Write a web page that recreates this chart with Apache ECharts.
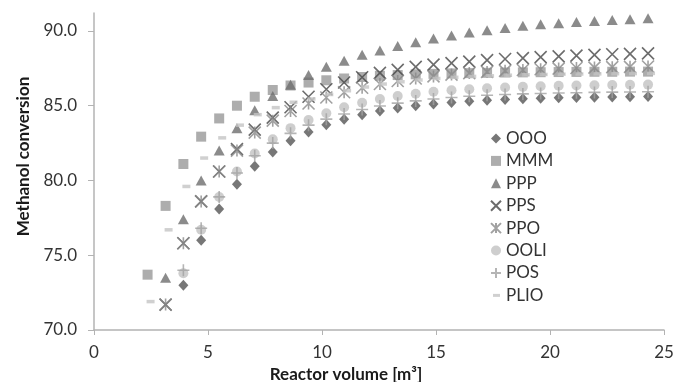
<!DOCTYPE html>
<html>
<head>
<meta charset="utf-8">
<script src="https://cdn.jsdelivr.net/npm/echarts@6/dist/echarts.min.js"></script>
<style>
  html, body { margin: 0; padding: 0; background: #fff; }
  #chart { width: 674px; height: 382px; }
</style>
</head>
<body>
<div id="chart"></div>
<script>
// reactor volume [m3] for every point
const volumes = [2.35, 3.14, 3.92, 4.70, 5.49, 6.27, 7.05, 7.84, 8.62, 9.41,
  10.19, 10.97, 11.76, 12.54, 13.32, 14.11, 14.89, 15.68, 16.46, 17.24,
  18.03, 18.81, 19.59, 20.38, 21.16, 21.95, 22.73, 23.51, 24.30];

// methanol conversion per oil (null = below the axis)
const ooo = [null, null, 73.0, 76.0, 78.1, 79.75, 80.95, 81.9, 82.65, 83.25, 83.72, 84.1, 84.4, 84.65, 84.85,
  85.0, 85.12, 85.22, 85.3, 85.37, 85.42, 85.46, 85.5, 85.53, 85.55, 85.57, 85.59, 85.6, 85.62];
const mmm = [73.7, 78.3, 81.1, 82.93, 84.15, 85.0, 85.6, 86.05, 86.35, 86.55, 86.7, 86.82, 86.92, 87.0, 87.05,
  87.1, 87.13, 87.16, 87.18, 87.2, 87.22, 87.23, 87.24, 87.25, 87.26, 87.27, 87.27, 87.28, 87.28];
const ppp = [null, 73.5, 77.4, 80.0, 82.0, 83.5, 84.7, 85.65, 86.4, 87.05, 87.6, 88.0, 88.4, 88.7, 89.0,
  89.25, 89.5, 89.7, 89.9, 90.05, 90.2, 90.35, 90.45, 90.52, 90.6, 90.67, 90.73, 90.78, 90.85];
const pps = [null, 71.7, 75.8, 78.6, 80.6, 82.1, 83.4, 84.2, 84.9, 85.6, 86.1, 86.55, 86.9, 87.2, 87.4,
  87.6, 87.75, 87.85, 87.95, 88.05, 88.12, 88.18, 88.25, 88.3, 88.35, 88.4, 88.44, 88.47, 88.5];
const ppo = [null, 71.7, 75.8, 78.6, 80.6, 82.0, 83.2, 84.0, 84.65, 85.15, 85.55, 85.9, 86.2, 86.45, 86.65,
  86.82, 86.96, 87.08, 87.18, 87.26, 87.33, 87.39, 87.44, 87.48, 87.52, 87.55, 87.58, 87.6, 87.62];
const ooli = [null, null, 73.8, 76.7, 78.9, 80.6, 81.8, 82.75, 83.5, 84.05, 84.5, 84.9, 85.2, 85.45, 85.65,
  85.8, 85.93, 86.03, 86.1, 86.17, 86.22, 86.26, 86.3, 86.33, 86.35, 86.37, 86.39, 86.4, 86.41];
const pos = [null, null, 74.0, 76.8, 78.9, 80.5, 81.65, 82.5, 83.15, 83.7, 84.1, 84.45, 84.75, 84.98, 85.17,
  85.32, 85.45, 85.55, 85.63, 85.7, 85.75, 85.79, 85.82, 85.85, 85.87, 85.89, 85.91, 85.92, 85.93];
const plio = [71.9, 76.7, 79.6, 81.5, 82.85, 83.7, 84.4, 84.87, 85.23, 85.45, 85.75, 86.0, 86.25, 86.45, 86.6,
  86.72, 86.82, 86.9, 86.96, 87.0, 87.04, 87.07, 87.09, 87.11, 87.12, 87.13, 87.14, 87.15, 87.16];

const xTicks = [0, 5, 10, 15, 20, 25];
const yTicks = [70, 75, 80, 85, 90];

const font = 'Lato, "Liberation Sans", sans-serif';

function pts(vals) {
  return vals.map((v, i) => [volumes[i], v]);
}

function lineMarker(name, vals, path, size, color, width) {
  return {
    name, type: 'scatter', data: pts(vals),
    symbol: path, symbolSize: size,
    itemStyle: {color: 'rgba(0,0,0,0)', borderColor: color, borderWidth: width}
  };
}

const chart = echarts.init(document.getElementById('chart'));
chart.setOption({
  animation: false,
  textStyle: {fontFamily: font},
  grid: {left: 94, right: 10, top: 13, bottom: 52, containLabel: false, outerBoundsMode: 'none'},
  legend: {
    orient: 'vertical', left: 485, top: 125,
    itemWidth: 10, itemHeight: 10, itemGap: 5.4,
    textStyle: {fontFamily: font, fontSize: 17, color: '#333'},
    data: ['OOO', 'MMM', 'PPP', 'PPS', 'PPO', 'OOLI', 'POS',
      // short dash icon, padded with move-tos so it keeps its size
      {name: 'PLIO', icon: 'path://M0,0M10,10M2,3.6L9,3.6L9,6.6L2,6.6Z'}]
  },
  xAxis: {
    type: 'value', min: 0, max: 25, interval: 5,
    name: 'Reactor volume [m³]', nameLocation: 'middle', nameGap: 29,
    nameTextStyle: {fontFamily: font, fontSize: 17, fontWeight: 'bold', color: '#1a1a1a', padding: [0, 66, 0, 0]},
    axisLine: {lineStyle: {color: '#b3b3b3', width: 1.5}},
    axisTick: {show: true, length: 5, lineStyle: {color: '#b3b3b3'}},
    axisLabel: {fontSize: 17, color: '#333', margin: 14, fontFamily: font},
    splitLine: {show: false}
  },
  yAxis: {
    type: 'value', min: 70, max: 91.2,
    name: 'Methanol conversion', nameLocation: 'middle', nameGap: 62,
    nameTextStyle: {fontFamily: font, fontSize: 17, fontWeight: 'bold', color: '#1a1a1a', padding: [0, 0, 0, 30]},
    axisLine: {show: true, lineStyle: {color: '#b3b3b3', width: 1.5}},
    axisTick: {show: true, length: 6, customValues: yTicks, lineStyle: {color: '#b3b3b3'}},
    axisLabel: {fontSize: 17, color: '#333', margin: 17, fontFamily: font,
      customValues: yTicks, formatter: v => v.toFixed(1)},
    splitLine: {show: false}
  },
  series: [
    {name: 'OOO', type: 'scatter', data: pts(ooo), symbol: 'diamond', symbolSize: [10, 11],
      itemStyle: {color: '#555555'}},
    {name: 'MMM', type: 'scatter', data: pts(mmm), symbol: 'rect', symbolSize: 10,
      itemStyle: {color: '#999999'}},
    {name: 'PPP', type: 'scatter', data: pts(ppp), symbol: 'triangle', symbolSize: [11, 10],
      itemStyle: {color: '#6e6e6e'}},
    lineMarker('PPS', pps, 'path://M0,0L10,10M10,0L0,10', 12, '#474747', 1.6),
    lineMarker('PPO', ppo, 'path://M0,0L10,10M10,0L0,10M5,0L5,10', 12, '#8a8a8a', 1.6),
    {name: 'OOLI', type: 'scatter', data: pts(ooli), symbol: 'circle', symbolSize: 10,
      itemStyle: {color: '#c2c2c2'}},
    lineMarker('POS', pos, 'path://M5,0L5,10M0,5L10,5', 12, '#a3a3a3', 1.6),
    {name: 'PLIO', type: 'scatter', data: pts(plio), symbol: 'rect', symbolSize: [8, 3.5],
      symbolOffset: [3, 0], itemStyle: {color: '#c4c4c4'}}
  ]
});
</script>
</body>
</html>
